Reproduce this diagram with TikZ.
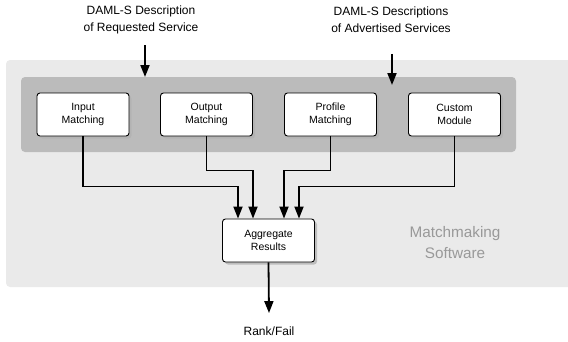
\documentclass[tikz,border=0pt]{standalone}
\usepackage{fontspec}
\setmainfont{Liberation Sans}
\usepackage{xcolor}
\usepackage{tikz}
\usetikzlibrary{arrows.meta,shadows}

\definecolor{panelgray}{HTML}{EAEAEA}
\definecolor{bargray}{HTML}{BBBBBB}
\definecolor{labelgray}{HTML}{999999}

\tikzset{
  module/.style={draw=black, line width=0.9pt, fill=white, rounded corners=3pt,
    minimum width=92pt, minimum height=43pt, align=center,
    font=\fontsize{10.5}{13}\selectfont,
    drop shadow={shadow xshift=2.5pt, shadow yshift=-2.5pt, fill=black!30, opacity=0.8}},
  flow/.style={line width=1.8pt, -{Triangle[length=12pt,width=9pt]}},
  caption/.style={align=center, font=\fontsize{12}{17}\selectfont}
}

\begin{document}
\begin{tikzpicture}[x=1pt, y=-1pt]
    \useasboundingbox (0,0) rectangle (568,341);

    % background panels
    \fill[panelgray, rounded corners=4pt] (6,60) rectangle (580,287);
    \fill[bargray, rounded corners=4pt] (21,77) rectangle (516,152);

    \node[caption] (req) at (141,19.5) {DAML-S Description\\of Requested Service};
    \node[caption] (adv) at (391,19.5) {DAML-S Descriptions\\of Advertised Services};

    \node[module] (input) at (83,114.5) {Input\\Matching};
    \node[module] (output) at (206.5,114.5) {Output\\Matching};
    \node[module] (profile) at (330.5,114.5) {Profile\\Matching};
    \node[module] (custom) at (454.5,114.5) {Custom\\Module};

    \node[module] (agg) at (268.5,240.5) {Aggregate\\Results};

    \node[align=center, font=\fontsize{15.3}{21}\selectfont, text=labelgray] (soft) at (455,242.5) {Matchmaking\\Software};

    \node[font=\fontsize{12}{14}\selectfont] (rank) at (269,331) {Rank/Fail};

    % inputs into the module bar
    \coordinate (reqin) at (145,77);
    \coordinate (advin) at (392,85);
    \draw[flow] ([xshift=4pt,yshift=-8pt]req.south) -- (reqin);
    \draw[flow] ([xshift=1pt,yshift=-18pt]adv.south) -- (advin);

    % results
    \draw[flow] (input.south) -- ++(0,50) -| ([xshift=-30.5pt]agg.north);
    \draw[flow] (output.south) -- ++(0,34) -| ([xshift=-15.5pt]agg.north);
    \draw[flow] (profile.south) -- ++(0,34) -| ([xshift=15.5pt]agg.north);
    \draw[flow] (custom.south) -- ++(0,50) -| ([xshift=30.5pt]agg.north);

    \draw[flow] (agg.south) -- ([yshift=10pt]rank.north);
\end{tikzpicture}
\end{document}
